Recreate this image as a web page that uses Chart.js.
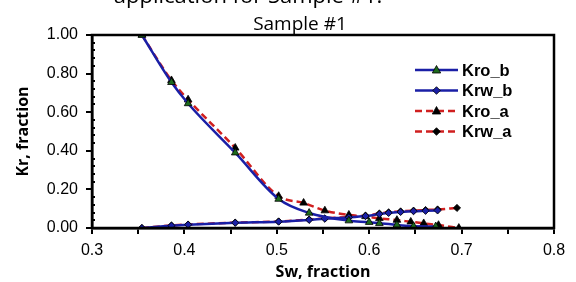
<!DOCTYPE html>
<html>
<head>
<meta charset="utf-8">
<script src="https://cdn.jsdelivr.net/npm/chart.js@4"></script>
<style>
  html, body { margin: 0; padding: 0; background: #fff; }
  #wrap { width: 576px; height: 282px; }
</style>
</head>
<body>
<div id="wrap"><canvas id="kr"></canvas></div>
<script>
// Données (Sw en fraction, Kr en fraction)
const swKroB = [0.354, 0.386, 0.404, 0.455, 0.502, 0.535, 0.578, 0.600, 0.611, 0.630, 0.648, 0.672];
const kroB   = [1.00, 0.755, 0.645, 0.39, 0.15, 0.078, 0.038, 0.030, 0.024, 0.016, 0.009, 0.008];

const swKrwB = [0.354, 0.386, 0.404, 0.455, 0.502, 0.535, 0.552, 0.578, 0.596, 0.611, 0.621, 0.634, 0.648, 0.661, 0.674];
const krwB   = [0.000, 0.012, 0.017, 0.027, 0.033, 0.042, 0.048, 0.055, 0.062, 0.072, 0.078, 0.083, 0.087, 0.089, 0.091];

const swKroA = [0.354, 0.386, 0.404, 0.455, 0.502, 0.529, 0.552, 0.578, 0.596, 0.611, 0.630, 0.645, 0.659, 0.675, 0.697];
const kroA   = [1.00, 0.765, 0.665, 0.415, 0.165, 0.130, 0.090, 0.068, 0.060, 0.050, 0.041, 0.032, 0.024, 0.015, 0.000];

const swKrwA = [0.354, 0.386, 0.404, 0.455, 0.502, 0.535, 0.552, 0.578, 0.596, 0.611, 0.621, 0.634, 0.648, 0.661, 0.674, 0.695];
const krwA   = [0.000, 0.013, 0.018, 0.028, 0.034, 0.044, 0.050, 0.057, 0.064, 0.075, 0.081, 0.086, 0.090, 0.093, 0.096, 0.104];

const seriesNames = ['Kro_b', 'Krw_b', 'Kro_a', 'Krw_a'];

const BLEU = '#1a1fa6';
const ROUGE = '#d01f1f';
const VERT = '#1d6a1d';

function points(xs, ys) {
    return xs.map((x, i) => ({ x: x, y: ys[i] }));
}

// Styles des séries (ligne + marqueur)
const styles = [
    { color: BLEU, dash: [], marker: 'triangle', fill: VERT, radius: 4.4 },
    { color: BLEU, dash: [], marker: 'rectRot', fill: BLEU, radius: 3.6 },
    { color: ROUGE, dash: [7, 4], marker: 'triangle', fill: '#000', radius: 4.4 },
    { color: ROUGE, dash: [7, 4], marker: 'rectRot', fill: '#000', radius: 3.6 }
];

const donnees = [
    points(swKroB, kroB),
    points(swKrwB, krwB),
    points(swKroA, kroA),
    points(swKrwA, krwA)
];

// Titres, cadre, graduations secondaires et légende
const decor = {
    id: 'decor',
    afterDraw(chart) {
        const ctx = chart.ctx;
        const a = chart.chartArea;
        const y = chart.scales.y;
        ctx.save();

        // titre coupé en haut + titre du graphique
        ctx.fillStyle = '#000';
        ctx.textAlign = 'center';
        ctx.textBaseline = 'alphabetic';
        ctx.font = '22px "Open Sans"';
        ctx.fillText('application for Sample #1.', 248, 2.5);
        ctx.font = '19px "Open Sans"';
        ctx.fillText('Sample #1', 300, 30);

        // graduations mineures de l'axe Y (vers l'intérieur)
        ctx.strokeStyle = '#000';
        ctx.lineWidth = 2;
        for (let v = 0.04; v < 1; v += 0.04) {
            if (Math.abs(v / 0.2 - Math.round(v / 0.2)) < 1e-6) continue;
            const py = Math.round(y.getPixelForValue(v));
            ctx.beginPath();
            ctx.moveTo(a.left, py);
            ctx.lineTo(a.left + 3, py);
            ctx.stroke();
        }

        // cadre
        ctx.lineWidth = 2.5;
        ctx.strokeRect(a.left, a.top, a.right - a.left, a.bottom - a.top);

        // légende
        const rows = [70, 90.5, 111, 131.5];
        ctx.font = 'bold 16.5px "Liberation Sans", Arial';
        ctx.textAlign = 'left';
        ctx.textBaseline = 'middle';
        rows.forEach((ry, i) => {
            const s = styles[i];
            ctx.strokeStyle = s.color;
            ctx.lineWidth = 2.5;
            ctx.setLineDash(s.dash);
            ctx.beginPath();
            ctx.moveTo(415, ry);
            ctx.lineTo(458, ry);
            ctx.stroke();
            ctx.setLineDash([]);
            ctx.fillStyle = s.fill;
            ctx.strokeStyle = '#000';
            ctx.lineWidth = 0.8;
            const cx = 436.5;
            ctx.beginPath();
            if (s.marker === 'triangle') {
                ctx.moveTo(cx, ry - 4.5);
                ctx.lineTo(cx + 4.2, ry + 3);
                ctx.lineTo(cx - 4.2, ry + 3);
            } else {
                ctx.moveTo(cx, ry - 3.8);
                ctx.lineTo(cx + 3.8, ry);
                ctx.lineTo(cx, ry + 3.8);
                ctx.lineTo(cx - 3.8, ry);
            }
            ctx.closePath();
            ctx.fill();
            ctx.stroke();
            ctx.fillStyle = '#000';
            ctx.fillText(seriesNames[i], 462, ry + 1);
        });
        ctx.restore();
    }
};

new Chart(document.getElementById('kr'), {
    type: 'line',
    data: {
        datasets: donnees.map((d, i) => ({
            label: seriesNames[i],
            data: d,
            borderColor: styles[i].color,
            borderWidth: 2.5,
            borderDash: styles[i].dash,
            pointStyle: styles[i].marker,
            pointRadius: styles[i].radius,
            pointBackgroundColor: styles[i].fill,
            pointBorderColor: '#000',
            pointBorderWidth: 0.8,
            cubicInterpolationMode: 'monotone',
            fill: false
        }))
    },
    options: {
        responsive: true,
        maintainAspectRatio: false,
        animation: false,
        layout: { padding: { top: 35, right: 22, left: 0, bottom: 0 } },
        plugins: {
            legend: { display: false },
            tooltip: { enabled: false }
        },
        scales: {
            x: {
                type: 'linear',
                min: 0.3,
                max: 0.8,
                afterFit(scale) { scale.height = 54; },
                border: { display: true, color: '#000', width: 2.5 },
                grid: { drawOnChartArea: false, drawTicks: true, tickLength: 6, color: '#000', lineWidth: 2 },
                ticks: {
                    stepSize: 0.05,
                    autoSkip: false,
                    maxRotation: 0,
                    padding: 7,
                    color: '#000',
                    font: { family: '"Liberation Sans", Arial', size: 16 },
                    callback: function(value) {
                        const d = value * 10;
                        return Math.abs(d - Math.round(d)) < 1e-6 ? value.toFixed(1) : '';
                    }
                },
                title: {
                    display: true,
                    text: 'Sw, fraction',
                    color: '#000',
                    padding: { top: 0, bottom: 0 },
                    font: { family: '"Open Sans"', size: 16, weight: 'bold' }
                }
            },
            y: {
                min: 0,
                max: 1,
                afterFit(scale) { scale.width = 92; },
                border: { display: true, color: '#000', width: 2.5 },
                grid: { drawOnChartArea: false, drawTicks: true, tickLength: 6, color: '#000', lineWidth: 2 },
                ticks: {
                    stepSize: 0.2,
                    padding: 8,
                    color: '#000',
                    font: { family: '"Liberation Sans", Arial', size: 16 },
                    callback: function(value) { return value.toFixed(2); }
                },
                title: {
                    display: true,
                    text: 'Kr, fraction',
                    color: '#000',
                    padding: { top: 14, bottom: 0 },
                    font: { family: '"Open Sans"', size: 16, weight: 'bold' }
                }
            }
        }
    },
    plugins: [decor]
});
</script>
</body>
</html>
